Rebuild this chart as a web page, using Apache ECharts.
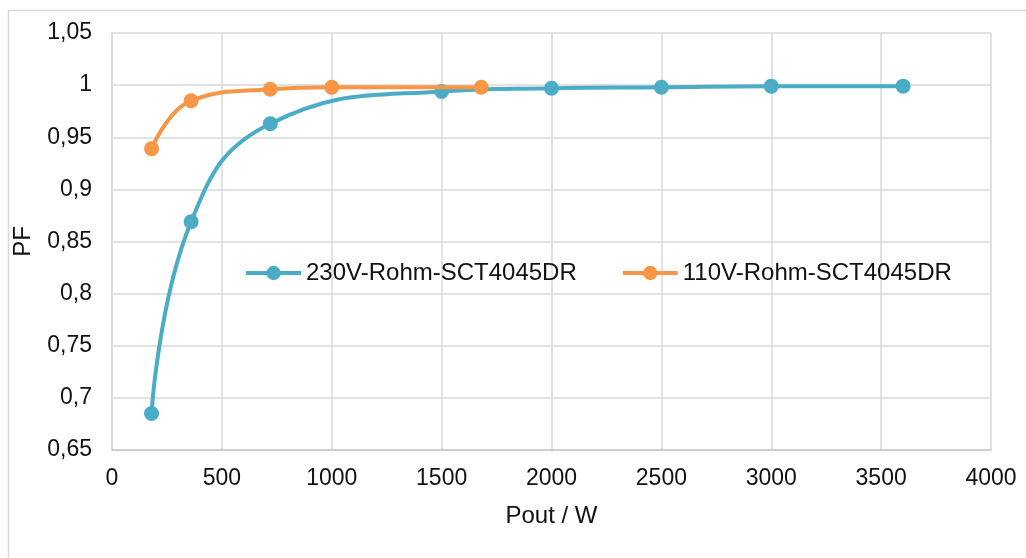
<!DOCTYPE html>
<html>
<head>
<meta charset="utf-8">
<script src="https://cdn.jsdelivr.net/npm/echarts@6/dist/echarts.min.js"></script>
<style>
html,body{margin:0;padding:0;background:#fff;}
#chart{width:1026px;height:558px;}
</style>
</head>
<body>
<div id="chart"></div>
<script>
// Data
var pout230 = [180, 360, 720, 1500, 2000, 2500, 3000, 3600];
var pf230   = [0.685, 0.869, 0.963, 0.994, 0.997, 0.998, 0.999, 0.999];
var pout110 = [180, 360, 720, 1000, 1680];
var pf110   = [0.939, 0.985, 0.996, 0.998, 0.998];
var seriesNames = ['230V-Rohm-SCT4045DR', '110V-Rohm-SCT4045DR'];
var xTicks = ['0', '500', '1000', '1500', '2000', '2500', '3000', '3500', '4000'];
var yTicks = ['0,65', '0,7', '0,75', '0,8', '0,85', '0,9', '0,95', '1', '1,05'];

function pairs(xs, ys) { return xs.map(function (x, i) { return [x, ys[i]]; }); }

var FONT = '"Liberation Sans", Arial, sans-serif';
var FS = 23;
var chart = echarts.init(document.getElementById('chart'), null, {renderer: 'canvas'});
chart.setOption({
  animation: false,
  backgroundColor: '#ffffff',
  textStyle: {fontFamily: FONT},
  graphic: [{
    type: 'rect', silent: true,
    shape: {x: 8.5, y: 10.5, width: 1040, height: 570},
    style: {fill: 'none', stroke: '#d9d9d9', lineWidth: 1.5}
  }],
  grid: {left: 112, right: 35, top: 33, bottom: 108, containLabel: false},
  legend: {
    left: 239, top: 256,
    itemWidth: 55, itemHeight: 18, itemGap: 44,
    lineStyle: {width: 4},
    textStyle: {fontSize: 24, color: '#111', fontFamily: FONT},
    data: seriesNames
  },
  xAxis: {
    type: 'value', min: 0, max: 4000, interval: 500,
    name: 'Pout / W', nameLocation: 'middle', nameGap: 54,
    nameTextStyle: {fontSize: 24, color: '#111', fontFamily: FONT},
    axisLine: {show: true, lineStyle: {color: '#c8c8c8', width: 1.5}},
    axisTick: {show: false},
    axisLabel: {
      fontSize: FS, color: '#111', margin: 17, fontFamily: FONT,
      formatter: function (v) {
        var idx = Math.round(v / 500);
        return xTicks[idx] !== undefined ? xTicks[idx] : String(v);
      }
    },
    splitLine: {show: true, lineStyle: {color: '#d9d9d9', width: 1.5}}
  },
  yAxis: {
    type: 'value', min: 0.65, max: 1.05, interval: 0.05,
    name: 'PF', nameLocation: 'middle', nameGap: 77, nameRotate: 90,
    nameTextStyle: {fontSize: 24, color: '#111', fontFamily: FONT},
    axisLine: {show: true, lineStyle: {color: '#d9d9d9', width: 1.5}},
    axisTick: {show: false},
    axisLabel: {
      fontSize: FS, color: '#111', margin: 20, fontFamily: FONT,
      formatter: function (v) {
        var idx = Math.round((v - 0.65) / 0.05);
        return yTicks[idx] !== undefined ? yTicks[idx] : String(v).replace('.', ',');
      }
    },
    splitLine: {show: true, lineStyle: {color: '#d9d9d9', width: 1.5}}
  },
  series: [{
    name: seriesNames[0], type: 'line', smooth: 0.45,
    data: pairs(pout230, pf230),
    symbol: 'circle', symbolSize: 15,
    lineStyle: {color: '#4bacc6', width: 4},
    itemStyle: {color: '#4bacc6'},
    z: 2
  }, {
    name: seriesNames[1], type: 'line', smooth: 0.45,
    data: pairs(pout110, pf110),
    symbol: 'circle', symbolSize: 15,
    lineStyle: {color: '#f79646', width: 4},
    itemStyle: {color: '#f79646'},
    z: 3
  }]
});
</script>
</body>
</html>
